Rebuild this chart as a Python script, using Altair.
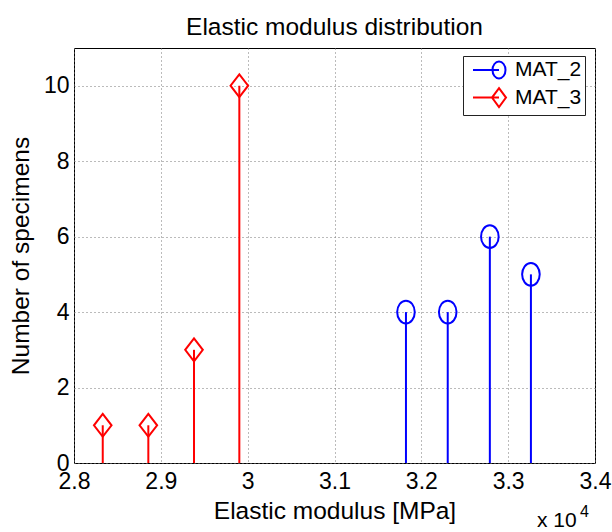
import altair as alt
import pandas as pd

# ---- data ----
materials = ["MAT_2", "MAT_3"]
mat2_modulus = [31823, 32304, 32789, 33262]   # MPa
mat2_count = [4, 4, 6, 5]
mat3_modulus = [28331, 28856, 29382, 29904]   # MPa
mat3_count = [1, 1, 3, 10]
x_ticks = [2.8, 2.9, 3.0, 3.1, 3.2, 3.3, 3.4]
y_ticks = [0, 2, 4, 6, 8, 10]
colors = ["#0000ff", "#ff0000"]

rows = []
for m, c in zip(mat2_modulus, mat2_count):
    rows.append({"material": "MAT_2", "modulus": m, "count": c})
for m, c in zip(mat3_modulus, mat3_count):
    rows.append({"material": "MAT_3", "modulus": m, "count": c})
df = pd.DataFrame(rows)
df["x"] = df["modulus"] / 1e4

FONT = "Liberation Sans"

ellipse = "M1,0A1,1.3 0 1,1 -1,0A1,1.3 0 1,1 1,0"
diamond = "M0,-1.3L1,0L0,1.3L-1,0Z"
leg_ellipse = "M-0.4,0H2.2M2.85,0A0.65,0.85 0 1,1 1.55,0A0.65,0.85 0 1,1 2.85,0"
leg_diamond = "M-0.4,0H2.2M2.2,-0.95L2.9,0L2.2,0.95L1.5,0Z"

xs = alt.Scale(domain=[2.8, 3.4], nice=False, zero=False)
ys = alt.Scale(domain=[0, 11], nice=False)

x_enc = alt.X(
    "x:Q", scale=xs,
    axis=alt.Axis(values=x_ticks, format=".1~f", title="Elastic modulus [MPa]",
                  titleY=55, titleBaseline="alphabetic"),
)
y_enc = alt.Y(
    "count:Q", scale=ys,
    axis=alt.Axis(values=y_ticks, title="Number of specimens",
                  titleX=-46, titleBaseline="alphabetic", titleAngle=270),
)

base = alt.Chart(df)

stems = base.mark_rule(strokeWidth=2).encode(
    x=x_enc, y=y_enc, y2=alt.datum(0),
    color=alt.Color("material:N", scale=alt.Scale(domain=materials, range=colors), legend=None),
)

points = base.mark_point(filled=False, strokeWidth=2, size=310, opacity=1).encode(
    x=alt.X("x:Q", scale=xs), y=alt.Y("count:Q", scale=ys),
    color=alt.Color("material:N", scale=alt.Scale(domain=materials, range=colors), legend=None),
    shape=alt.Shape("material:N", scale=alt.Scale(domain=materials, range=[ellipse, diamond]), legend=None),
)

legend_layer = base.mark_point(filled=False, strokeWidth=2, opacity=0).encode(
    color=alt.Color(
        "material:N", scale=alt.Scale(domain=materials, range=colors),
        legend=alt.Legend(
            title=None, orient="none", legendX=389, legendY=8, padding=3,
            strokeColor="#222222", fillColor="white", cornerRadius=0,
            symbolSize=400, symbolStrokeWidth=2, symbolOpacity=1,
            labelFont=FONT, labelFontSize=21, labelColor="black",
            labelOffset=27, rowPadding=0.6, labelExpr="datum.label + ' '",
        ),
    ),
    shape=alt.Shape("material:N", scale=alt.Scale(domain=materials, range=[leg_ellipse, leg_diamond])),
)

exp_text = alt.Chart(pd.DataFrame({"t": ["x 10"]})).mark_text(
    font=FONT, fontSize=21, align="left", baseline="alphabetic", color="black"
).encode(text="t:N", x=alt.value(463), y=alt.value(479))

exp_sup = alt.Chart(pd.DataFrame({"t": ["4"]})).mark_text(
    font=FONT, fontSize=16, align="left", baseline="alphabetic", color="black"
).encode(text="t:N", x=alt.value(506), y=alt.value(469))

chart = alt.layer(stems, points, legend_layer, exp_text, exp_sup).resolve_scale(
    shape="independent", color="independent"
).properties(
    width=521, height=415,
    autosize=alt.AutoSizeParams(type="none"),
    padding={"left": 74, "top": 48, "right": 17, "bottom": 69},
    title=alt.TitleParams(
        "Elastic modulus distribution", font=FONT, fontSize=24.5, fontWeight="normal",
        color="black", offset=16, dy=27, baseline="alphabetic", anchor="middle",
    ),
    background="white",
).configure_view(
    stroke="black", strokeWidth=1
).configure_axis(
    labelFont=FONT, labelFontSize=23, labelColor="black",
    titleFont=FONT, titleFontSize=24.5, titleFontWeight="normal", titleColor="black",
    ticks=False, domain=False, labelPadding=7,
    grid=True, gridColor="#777777", gridDash=[1, 3], gridWidth=1, gridOpacity=1,
    labelFlush=False, labelOverlap=False,
).configure_axisY(labelPadding=5)

chart.save("out.html", embed_options={"renderer": "svg", "actions": False})
